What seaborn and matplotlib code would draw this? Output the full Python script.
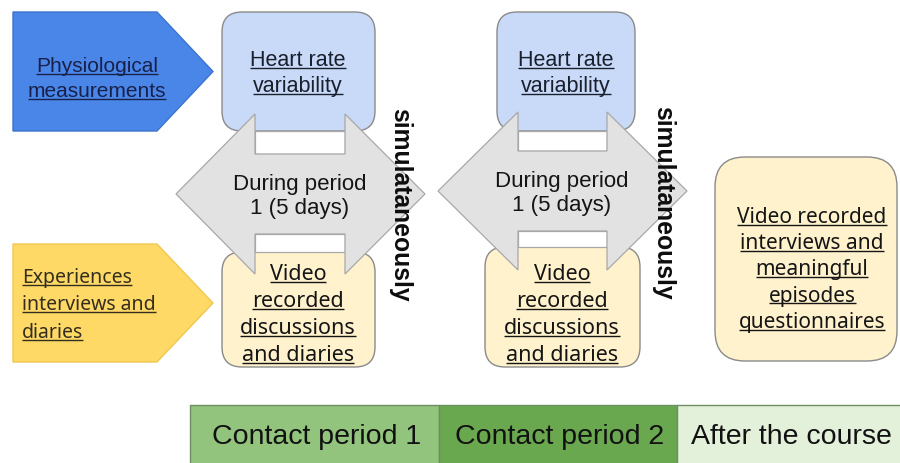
import matplotlib
matplotlib.use("Agg")
import matplotlib.pyplot as plt
import seaborn as sns
from matplotlib.patches import Polygon, FancyBboxPatch, Rectangle

# diagram texts
source_labels = [["Physiological", "measurements"],
                 ["Experiences", "interviews and", "diaries"]]
hrv_lines = ["Heart rate", "variability"]
period_lines = ["During period", "1 (5 days)"]
video_lines = ["Video", "recorded", "discussions", "and diaries"]
after_lines = ["Video recorded", "interviews and", "meaningful",
               "episodes", "questionnaires"]
side_label = "simulataneously"
timeline_labels = ["Contact period 1", "Contact period 2", "After the course"]
timeline_colors = ["#93c47d", "#6aa84f", "#e3f0da"]

sns.set_theme(style="white")
SANS = ["Liberation Sans", "DejaVu Sans"]
NOTO = ["Noto Sans", "DejaVu Sans"]

fig = plt.figure(figsize=(9, 4.64), dpi=100)
ax = fig.add_axes([0, 0, 1, 1])
ax.set_xlim(0, 900)
ax.set_ylim(464, 0)
ax.axis("off")

underlined = []


def line_text(x, base, s, size, family, color, ha="center", ul=True):
    t = ax.text(x, base, s, fontsize=size, family=family, color=color,
                ha=ha, va="baseline", zorder=8)
    if ul:
        underlined.append((t, base, size, color))


def rbox(x0, y0, x1, y1, fc, r=20):
    ax.add_patch(FancyBboxPatch((x0, y0), x1 - x0, y1 - y0,
                                boxstyle=f"round,pad=0,rounding_size={r}",
                                fc=fc, ec="#8a8a8a", lw=1.0, zorder=2))


def pentagon(y0, y1, fc, ec):
    ym = (y0 + y1) / 2
    pts = [(13, y0), (157, y0), (213, ym), (157, y1), (13, y1)]
    ax.add_patch(Polygon(pts, closed=True, fc=fc, ec=ec, lw=1.0, zorder=2))


def double_arrow(xl, xh1, xh2, xr, yc, htop, hbot, stop, sbot):
    pts = [(xl, yc), (xh1, htop), (xh1, stop), (xh2, stop), (xh2, htop),
           (xr, yc), (xh2, hbot), (xh2, sbot), (xh1, sbot), (xh1, hbot)]
    ax.add_patch(Polygon(pts, closed=True, fc="#e2e2e2", ec="#a8a8a8",
                         lw=0.9, zorder=4))


# source pentagons
pentagon(13, 132, "#4a86e8", "#3d74cc")
pentagon(245, 363, "#ffd966", "#f0c850")
for i, s in enumerate(source_labels[0]):
    line_text(97, 72 + 25 * i, s, 15, SANS, "#17214a")
for i, s in enumerate(source_labels[1]):
    line_text(22, 283 + 27.5 * i, s, 14, NOTO, "#332d1e", ha="left")

# two measurement groups
groups = [
    dict(top=(222, 375), bot=(222, 375), ybot=253, arrow=(176, 255, 345, 425),
         yc=195, ht=115, hb=275, st=155, sb=235, cx=298, acx=300, vcx=298,
         pbase=190, sx=400, sy=205),
    dict(top=(497, 635), bot=(485, 640), ybot=248, arrow=(438, 518, 607, 687),
         yc=192, ht=113, hb=271, st=152, sb=232, cx=566, acx=562, vcx=562,
         pbase=187, sx=663, sy=203),
]
for g in groups:
    rbox(g["top"][0], 13, g["top"][1], 132, "#c9daf8")
    rbox(g["bot"][0], g["ybot"], g["bot"][1], 368, "#fff2cc")
    xl, xh1, xh2, xr = g["arrow"]
    ax.add_patch(Rectangle((xh1, 132), xh2 - xh1, g["st"] - 132,
                           fc="white", ec="#a8a8a8", lw=0.9, zorder=3))
    ax.add_patch(Rectangle((xh1, g["sb"]), xh2 - xh1, g["ybot"] - g["sb"],
                           fc="white", ec="#a8a8a8", lw=0.9, zorder=3))
    double_arrow(xl, xh1, xh2, xr, g["yc"], g["ht"], g["hb"], g["st"], g["sb"])
    for i, s in enumerate(hrv_lines):
        line_text(g["cx"], 66 + 26 * i, s, 15.5, SANS, "#1a1f2e")
    for i, s in enumerate(period_lines):
        line_text(g["acx"], g["pbase"] + 24 * i, s, 16, SANS, "#151515", ul=False)
    for i, s in enumerate(video_lines):
        line_text(g["vcx"], 280 + 27 * i, s, 15.5, NOTO, "#151515")
    ax.text(g["sx"], g["sy"], side_label, rotation=-90, ha="center",
            va="center", fontsize=17.8, fontweight="bold", family=SANS,
            color="#0d0d0d", zorder=9)

# after the course box
rbox(715, 158, 897, 362, "#fff2cc", r=30)
for i, s in enumerate(after_lines):
    line_text(812, 223 + 26.2 * i, s, 15, NOTO, "#151515")

# timeline bar
edges = [190, 439, 677, 901]
for i, lab in enumerate(timeline_labels):
    ax.add_patch(Rectangle((edges[i], 406), edges[i + 1] - edges[i], 70,
                           fc=timeline_colors[i], ec="#6f8f62", lw=1.0,
                           zorder=2))
    ax.text((edges[i] + edges[i + 1]) / 2 + 2, 437, lab, ha="center",
            va="center", fontsize=20.5, family=SANS, color="#111111", zorder=8)

# underlines
fig.canvas.draw()
rend = fig.canvas.get_renderer()
inv = ax.transData.inverted()
for t, base, size, color in underlined:
    bb = t.get_window_extent(rend)
    (x0, _), (x1, _) = inv.transform([[bb.x0, bb.y0], [bb.x1, bb.y0]])
    y = base + size * 100 / 72 * 0.13
    ax.plot([x0, x1], [y, y], color=color, lw=1.0, zorder=8,
            solid_capstyle="butt")

fig.savefig("out.png", dpi=100)
